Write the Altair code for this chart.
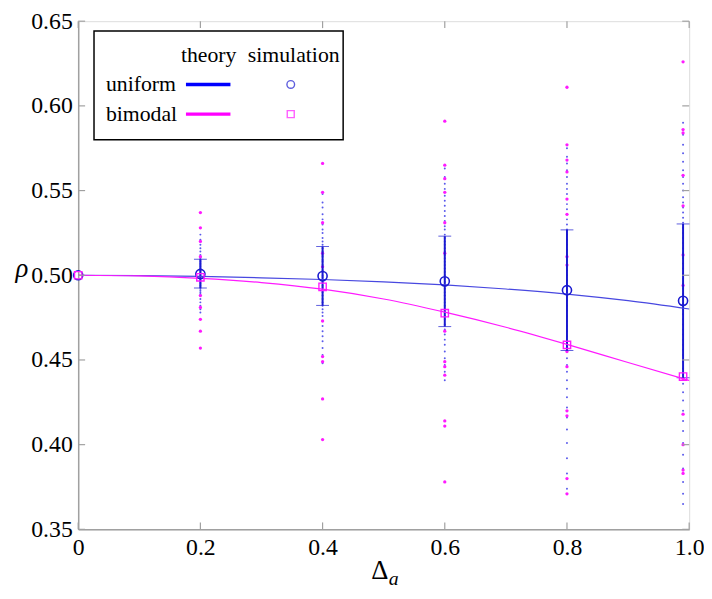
import altair as alt
import pandas as pd

# ---- data ----
sim_x = [0.0, 0.2, 0.4, 0.6, 0.8, 0.99]
uniform_mean = [0.500, 0.5008, 0.4995, 0.4964, 0.4912, 0.4849]
bimodal_mean = [0.500, 0.4988, 0.4932, 0.4776, 0.4589, 0.4402]
uniform_lo = [0.500, 0.4925, 0.4822, 0.4697, 0.4556, 0.4395]
uniform_hi = [0.500, 0.5095, 0.5170, 0.5231, 0.5268, 0.5303]

theory_x = [0.0, 0.1, 0.2, 0.3, 0.4, 0.5, 0.6, 0.7, 0.8, 0.9, 1.0]
theory_uniform = [0.500, 0.4998, 0.4993, 0.4985, 0.4975, 0.4961, 0.4943, 0.4919, 0.4889, 0.4850, 0.4801]
theory_bimodal = [0.500, 0.4996, 0.4982, 0.4957, 0.4918, 0.4860, 0.4782, 0.4693, 0.4592, 0.4485, 0.4379]

blue_02 = [0.524, 0.521, 0.518, 0.516, 0.514, 0.512, 0.511, 0.510, 0.509, 0.508, 0.507, 0.506,
           0.505, 0.504, 0.503, 0.502, 0.501, 0.500, 0.499, 0.498, 0.497, 0.496, 0.495, 0.494,
           0.493, 0.492, 0.491, 0.490, 0.489, 0.488, 0.486, 0.484, 0.482, 0.480, 0.478]
blue_04 = [0.548, 0.543, 0.540, 0.536, 0.533, 0.530, 0.527, 0.525, 0.522, 0.520, 0.518, 0.516,
           0.514, 0.512, 0.511, 0.509, 0.508, 0.506, 0.505, 0.503, 0.502, 0.500, 0.499, 0.497,
           0.496, 0.494, 0.493, 0.491, 0.490, 0.488, 0.486, 0.484, 0.482, 0.480, 0.478, 0.476,
           0.473, 0.470, 0.467, 0.464, 0.461, 0.457, 0.453, 0.448]
blue_06 = [0.563, 0.558, 0.554, 0.551, 0.547, 0.544, 0.541, 0.538, 0.535, 0.532, 0.529, 0.527,
           0.524, 0.522, 0.520, 0.518, 0.516, 0.514, 0.512, 0.510, 0.508, 0.506, 0.504, 0.502,
           0.500, 0.498, 0.496, 0.494, 0.492, 0.490, 0.488, 0.486, 0.484, 0.482, 0.480, 0.478,
           0.476, 0.474, 0.471, 0.468, 0.465, 0.462, 0.459, 0.455, 0.451, 0.447, 0.443, 0.438]
blue_08 = [0.575, 0.570, 0.566, 0.562, 0.558, 0.554, 0.551, 0.548, 0.545, 0.542, 0.539, 0.536,
           0.533, 0.530, 0.527, 0.524, 0.521, 0.518, 0.515, 0.512, 0.509, 0.506, 0.503, 0.500,
           0.497, 0.494, 0.491, 0.488, 0.485, 0.482, 0.479, 0.476, 0.473, 0.470, 0.467, 0.464,
           0.461, 0.458, 0.455, 0.451, 0.447, 0.443, 0.438, 0.433, 0.428, 0.422, 0.416, 0.409,
           0.401, 0.392, 0.383, 0.374]
blue_10 = [0.590, 0.583, 0.577, 0.572, 0.567, 0.562, 0.558, 0.554, 0.550, 0.546, 0.543, 0.540,
           0.537, 0.534, 0.531, 0.528, 0.525, 0.522, 0.519, 0.516, 0.513, 0.510, 0.507, 0.504,
           0.501, 0.498, 0.495, 0.492, 0.489, 0.486, 0.483, 0.480, 0.477, 0.474, 0.471, 0.468,
           0.465, 0.462, 0.459, 0.456, 0.453, 0.449, 0.445, 0.441, 0.436, 0.431, 0.426, 0.420,
           0.414, 0.408, 0.401, 0.394, 0.386, 0.378, 0.371, 0.365]

mag_02 = [0.537, 0.528, 0.520, 0.511, 0.488, 0.481, 0.474, 0.467, 0.457]
mag_04 = [0.566, 0.549, 0.531, 0.513, 0.505, 0.473, 0.452, 0.449, 0.427, 0.403]
mag_06 = [0.591, 0.565, 0.557, 0.549, 0.531, 0.513, 0.467, 0.449, 0.446, 0.441, 0.414, 0.411, 0.378]
mag_08 = [0.611, 0.577, 0.568, 0.561, 0.545, 0.536, 0.511, 0.506, 0.455, 0.446, 0.420, 0.417, 0.380, 0.371]
mag_10 = [0.626, 0.586, 0.584, 0.559, 0.541, 0.512, 0.494, 0.439, 0.418, 0.400, 0.385, 0.383]

x_ticks = [0.0, 0.2, 0.4, 0.6, 0.8, 1.0]
y_ticks = [0.35, 0.40, 0.45, 0.50, 0.55, 0.60, 0.65]

# ---- tables ----
W, H = 618, 514
BLUE = "#1a1ad0"
MAG = "#ff1aff"
FONT = "Liberation Serif, DejaVu Serif, serif"

def cloud(xv, vals):
    return [{"d": xv, "rho": v} for v in vals]

blue_df = pd.DataFrame(cloud(0.2, blue_02) + cloud(0.4, blue_04) + cloud(0.6, blue_06)
                       + cloud(0.8, blue_08) + cloud(0.99, blue_10))
mag_df = pd.DataFrame(cloud(0.2, mag_02) + cloud(0.4, mag_04) + cloud(0.6, mag_06)
                      + cloud(0.8, mag_08) + cloud(0.99, mag_10))
sim_df = pd.DataFrame({"d": sim_x, "u": uniform_mean, "b": bimodal_mean,
                       "lo": uniform_lo, "hi": uniform_hi})
err_df = sim_df[sim_df["d"] > 0]
theory_df = pd.DataFrame({"d": theory_x, "u": theory_uniform, "b": theory_bimodal})
xt_df = pd.DataFrame({"v": x_ticks})
yt_df = pd.DataFrame({"v": y_ticks})
one = pd.DataFrame({"k": [0]})

xs = alt.Scale(domain=[0, 1], nice=False, zero=False)
ys = alt.Scale(domain=[0.35, 0.65], nice=False, zero=False)

xaxis = alt.Axis(values=x_ticks, ticks=False, grid=False, title=None,
                 labelExpr="datum.value == 0 ? '0' : format(datum.value, '.1f')",
                 labelFont=FONT, labelFontSize=24, labelColor="black", labelPadding=6,
                 domainColor="#a0a0a0", domainWidth=1.5, labelFlush=False)
yaxis = alt.Axis(values=y_ticks, ticks=False, grid=False, title=None, format=".2f",
                 labelFont=FONT, labelFontSize=24, labelColor="black", labelPadding=6,
                 domainColor="#a0a0a0", domainWidth=1.5)

X = lambda f: alt.X(f, type="quantitative", scale=xs, axis=xaxis)
Y = lambda f: alt.Y(f, type="quantitative", scale=ys, axis=yaxis)

blue_dots = alt.Chart(blue_df).mark_circle(size=4, color="#3c3ce8", opacity=0.85).encode(
    x=X("d"), y=Y("rho"))
mag_dots = alt.Chart(mag_df).mark_circle(size=11, color=MAG, opacity=1).encode(
    x=X("d"), y=Y("rho"))
err_line = alt.Chart(err_df).mark_rule(color=BLUE, strokeWidth=2).encode(
    x=X("d"), y=Y("lo"), y2="hi")
cap_lo = alt.Chart(err_df).mark_tick(color=BLUE, thickness=1, size=13, orient="horizontal").encode(
    x=X("d"), y=Y("lo"))
cap_hi = alt.Chart(err_df).mark_tick(color=BLUE, thickness=1, size=13, orient="horizontal").encode(
    x=X("d"), y=Y("hi"))
th_u = alt.Chart(theory_df).mark_line(color="#4848e0", strokeWidth=1.2, interpolate="monotone").encode(
    x=X("d"), y=Y("u"))
th_b = alt.Chart(theory_df).mark_line(color=MAG, strokeWidth=1.2, interpolate="monotone").encode(
    x=X("d"), y=Y("b"))
m_u = alt.Chart(sim_df).mark_point(shape="circle", filled=False, size=85, color=BLUE,
                                   strokeWidth=1.6, opacity=1).encode(x=X("d"), y=Y("u"))
m_b = alt.Chart(sim_df).mark_point(shape="square", filled=False, size=55, color=MAG,
                                   strokeWidth=1.4, opacity=1).encode(x=X("d"), y=Y("b"))

# inward ticks on all four sides
TL = 7
tick_style = dict(color="#a0a0a0", strokeWidth=1.2)
yl = alt.Chart(yt_df).mark_rule(**tick_style).encode(y=Y("v"), x=alt.value(0), x2=alt.value(TL))
yr = alt.Chart(yt_df).mark_rule(**tick_style).encode(y=Y("v"), x=alt.value(W - TL), x2=alt.value(W))
xb = alt.Chart(xt_df).mark_rule(**tick_style).encode(x=X("v"), y=alt.value(H - TL), y2=alt.value(H))
xtp = alt.Chart(xt_df).mark_rule(**tick_style).encode(x=X("v"), y=alt.value(0), y2=alt.value(TL))

# axis titles
rho_t = alt.Chart(one).mark_text(text="ρ", font=FONT, fontSize=27, fontStyle="italic",
                                 align="center", baseline="middle").encode(
    x=alt.value(-57), y=alt.value(251))
dx_t = alt.Chart(one).mark_text(text="Δ", font=FONT, fontSize=27, align="center",
                                baseline="alphabetic").encode(x=alt.value(305), y=alt.value(564))
dx_s = alt.Chart(one).mark_text(text="a", font=FONT, fontSize=20, fontStyle="italic",
                                align="left", baseline="alphabetic").encode(x=alt.value(314), y=alt.value(570))

# legend
box = alt.Chart(one).mark_rect(fill="white", stroke="black", strokeWidth=1.5).encode(
    x=alt.value(16), x2=alt.value(268), y=alt.value(10), y2=alt.value(120))
lt = dict(font=FONT, fontSize=22, baseline="middle", color="black")
t_th = alt.Chart(one).mark_text(text="theory", align="center", **lt).encode(x=alt.value(132), y=alt.value(34))
t_si = alt.Chart(one).mark_text(text="simulation", align="center", **lt).encode(x=alt.value(218), y=alt.value(34))
t_un = alt.Chart(one).mark_text(text="uniform", align="left", **lt).encode(x=alt.value(28), y=alt.value(64))
t_bi = alt.Chart(one).mark_text(text="bimodal", align="left", **lt).encode(x=alt.value(28), y=alt.value(94))
l_un = alt.Chart(one).mark_rule(color="#0000ff", strokeWidth=3.5).encode(
    x=alt.value(109), x2=alt.value(154), y=alt.value(64))
l_bi = alt.Chart(one).mark_rule(color="#ff00ff", strokeWidth=3.5).encode(
    x=alt.value(109), x2=alt.value(154), y=alt.value(94))
s_un = alt.Chart(one).mark_point(shape="circle", filled=False, size=60, color=BLUE, strokeWidth=1.4).encode(
    x=alt.value(215), y=alt.value(64))
s_bi = alt.Chart(one).mark_point(shape="square", filled=False, size=50, color=MAG, strokeWidth=1.4).encode(
    x=alt.value(215), y=alt.value(94))

chart = alt.layer(
    blue_dots, mag_dots, err_line, cap_lo, cap_hi, th_u, th_b, m_u, m_b,
    yl, yr, xb, xtp, rho_t, dx_t, dx_s,
    box, t_th, t_si, t_un, t_bi, l_un, l_bi, s_un, s_bi,
).properties(
    width=W, height=H,
    autosize=alt.AutoSizeParams(type="none"),
    padding={"left": 71, "top": 10, "right": 15, "bottom": 57},
).configure_view(stroke="#a0a0a0", strokeWidth=1.5).configure(background="white")

chart.save("out.html", embed_options={"renderer": "svg", "actions": False})
